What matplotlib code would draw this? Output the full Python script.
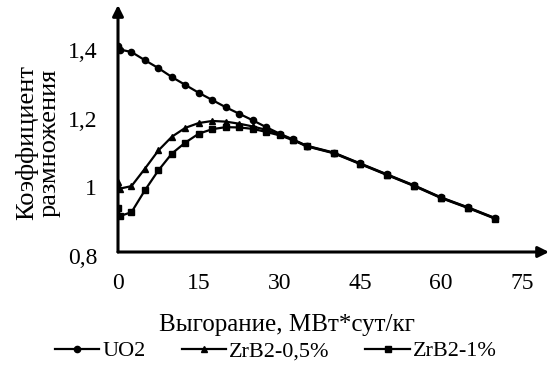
import matplotlib
matplotlib.use("Agg")
import matplotlib.pyplot as plt
from matplotlib.transforms import ScaledTranslation

# burnup points and multiplication factor
burnup = [0, 0.4, 2.5, 5, 7.5, 10, 12.5, 15, 17.5, 20, 22.5, 25, 27.5, 30,
          32.5, 35, 40, 45, 50, 55, 60, 65, 70]
k_uo2 = [1.400, 1.390, 1.383, 1.359, 1.336, 1.310, 1.287, 1.264, 1.243, 1.222,
         1.203, 1.184, 1.164, 1.145, 1.128, 1.110, 1.090, 1.058, 1.026, 0.994,
         0.959, 0.930, 0.899]
k_zrb2_05 = [1.005, 0.985, 0.992, 1.043, 1.096, 1.136, 1.162, 1.176, 1.182, 1.180,
             1.174, 1.166, 1.156, 1.143, 1.127, 1.109, 1.089, 1.057, 1.025, 0.993,
             0.958, 0.929, 0.898]
k_zrb2_1 = [0.928, 0.905, 0.916, 0.980, 1.038, 1.087, 1.119, 1.145, 1.158, 1.164,
            1.163, 1.159, 1.150, 1.140, 1.126, 1.108, 1.088, 1.056, 1.024, 0.992,
            0.957, 0.928, 0.897]
series_names = ["UO2", "ZrB2-0,5%", "ZrB2-1%"]
x_ticks = [0, 15, 30, 45, 60, 75]
y_ticks = [0.8, 1.0, 1.2, 1.4]
y_tick_labels = ["0,8", "1", "1,2", "1,4"]

plt.rcParams['font.family'] = ['Liberation Serif', 'DejaVu Serif']
TICK_FS = 17
LAB_FS = 18

fig = plt.figure(figsize=(5.51, 3.74), dpi=100)
ax = fig.add_axes([118 / 551, 1 - 252 / 374, 431 / 551, 247 / 374])

ax.plot(burnup, k_uo2, color='black', lw=1.6, marker='o', ms=4.5, label=series_names[0])
ax.plot(burnup, k_zrb2_05, color='black', lw=1.6, marker='^', ms=5, label=series_names[1])
ax.plot(burnup, k_zrb2_1, color='black', lw=1.6, marker='s', ms=5, label=series_names[2])

ax.set_xlim(0, 80)
ax.set_ylim(0.8, 1.52)
ax.set_xticks(x_ticks)
ax.set_yticks(y_ticks)
ax.set_yticklabels(y_tick_labels)
ax.tick_params(axis='both', length=0, labelsize=TICK_FS)
ax.tick_params(axis='y', pad=15)
ax.tick_params(axis='x', pad=15)
for lab in ax.get_yticklabels():
    lab.set_transform(lab.get_transform() + ScaledTranslation(0, -4 / 100, fig.dpi_scale_trans))

for s in ax.spines.values():
    s.set_visible(False)
# axis arrows
arrow = dict(arrowstyle='-|>', lw=2.2, color='black', mutation_scale=16, shrinkA=0, shrinkB=0)
ax.annotate('', xy=(1, 0), xytext=(0, 0), xycoords='axes fraction', arrowprops=arrow)
ax.annotate('', xy=(0, 1), xytext=(0, 0), xycoords='axes fraction', arrowprops=arrow)

ax.set_xlabel("Выгорание, МВт*сут/кг", fontsize=LAB_FS)
ax.xaxis.set_label_coords((287 - 118) / 431, (252 - 314) / 247)
fig.text(38 / 551, 1 - 143 / 374, "Коэффициент\nразмножения", rotation=90,
         ha='center', va='center', fontsize=19, multialignment='center', linespacing=1.0)

fig.legend(loc='center', bbox_to_anchor=(276 / 551, 1 - 351 / 374), ncol=3, frameon=False,
           fontsize=16, handlelength=2.0, handletextpad=0.15, columnspacing=1.6)

fig.savefig("out.png", dpi=100)
